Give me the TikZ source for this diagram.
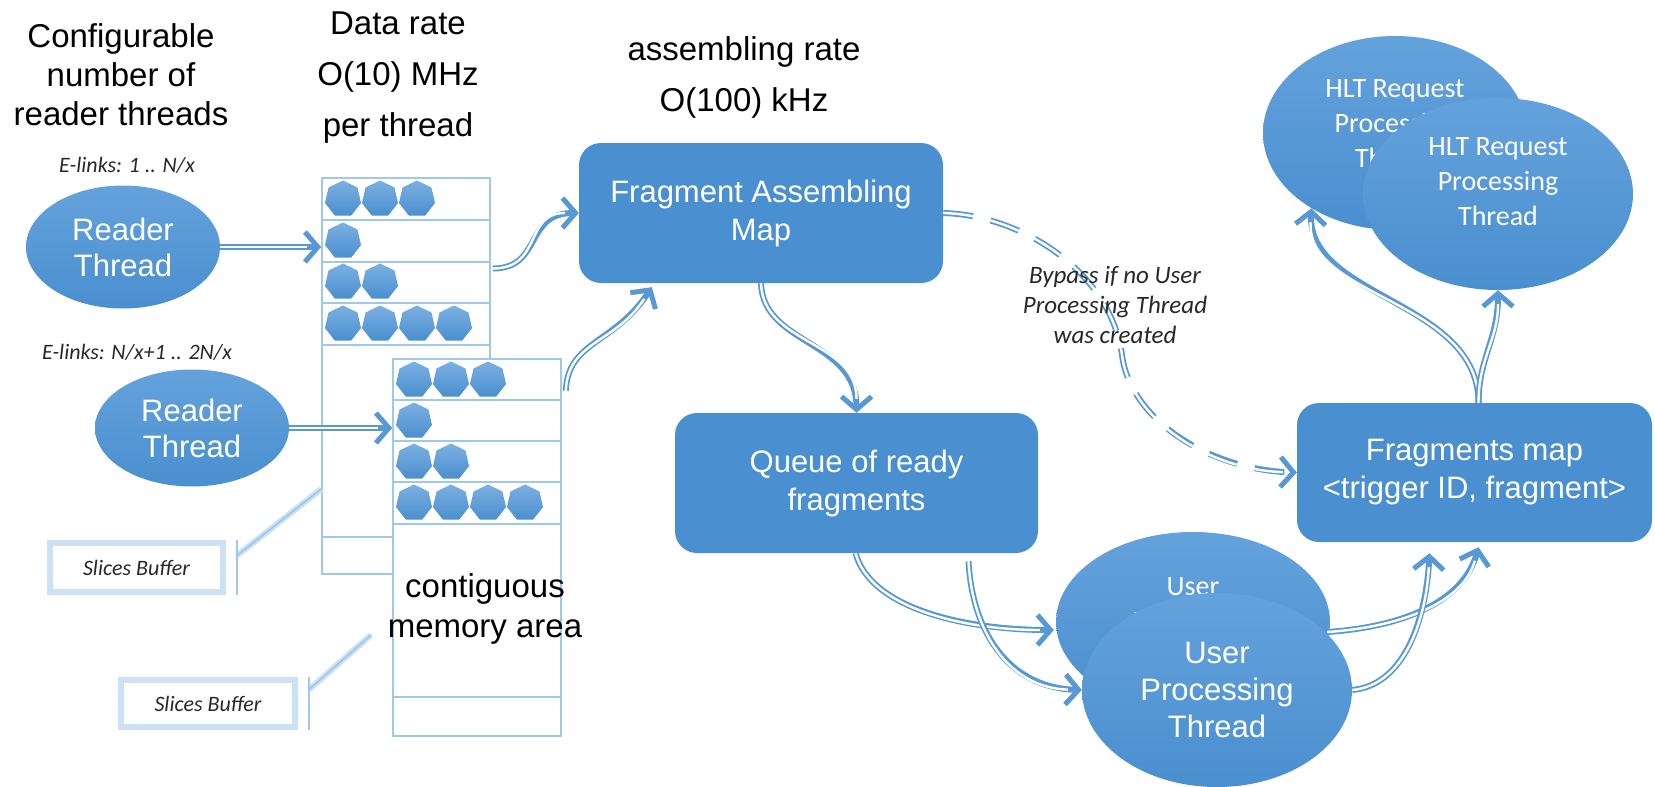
\documentclass[tikz,border=0pt]{standalone}
\usepackage{fontspec}
\setmainfont{Liberation Sans}
\newfontfamily\calfont{Carlito}
\usetikzlibrary{arrows.meta,shapes.geometric}
\definecolor{nodeblue}{RGB}{74,143,207}
\definecolor{lightnode}{RGB}{100,162,220}
\definecolor{conblue}{RGB}{88,152,213}
\definecolor{bufline}{RGB}{160,200,236}
\definecolor{glowc}{RGB}{205,225,245}
\definecolor{labgray}{RGB}{40,40,40}
\newcommand\conpath[2][]{\draw[cbody,#1] #2; \draw[ccore,#1] #2;}
\begin{document}
\begin{tikzpicture}[x=1pt,y=-1pt,
  every node/.style={inner sep=0pt},
  hdr/.style={align=center, text=black},
  lab/.style={align=center, font=\calfont\itshape\fontsize{22}{26}\selectfont, text=labgray},
  ell/.style={ellipse, top color=lightnode, bottom color=nodeblue, text=white, align=center},
  box/.style={rectangle, rounded corners=22pt, fill=nodeblue, text=white, align=center, font=\fontsize{31}{38}\selectfont},
  bufrow/.style={rectangle, draw=bufline, line width=1.6pt, fill=white, minimum width=168pt},
  hept/.style={regular polygon, regular polygon sides=7, minimum size=37pt, top color=lightnode!85!white, bottom color=nodeblue},
  cbody/.style={draw=conblue, line width=6pt, -{Straight Barb[length=13pt,width=30pt,line width=5pt 0]}},
  ccore/.style={draw=white, line width=2.4pt, shorten >=14pt},
  dashes/.style={dash pattern=on 30pt off 18pt},
  slicebox/.style={rectangle, fill=white, draw=glowc, line width=6pt, font=\calfont\itshape\fontsize{22}{26}\selectfont, text=labgray},
  leader/.style={draw=bufline, line width=1.8pt, preaction={draw=glowc, line width=6pt}}
]
\useasboundingbox (0,0) rectangle (1655,787);
\fill[white] (0,0) rectangle (1655,787);

% headline texts
\node[hdr, font=\fontsize{33}{39}\selectfont] (cfg) at (121,75) {Configurable\\number of\\reader threads};
\node[hdr, font=\fontsize{33}{51}\selectfont] (drate) at (398,78) {Data rate\\O(10) MHz\\per thread};
\node[hdr, font=\fontsize{33}{51}\selectfont] (arate) at (744,77) {assembling rate\\O(100) kHz};

% buffer 1
\foreach \n/\y/\h in {1/199/42,2/241/42,3/282.5/41,4/324/42,5/441/192,6/555.5/37}
  \node[bufrow, minimum height=\h*1pt] (b1r\n) at (406,\y) {};
\foreach \x/\y [count=\i] in {343/199,380/199,417/199,343/241,343/282,380/282,343/324,380/324,417/324,454/324}
  \node[hept] (h1-\i) at (\x,\y) {};
% buffer 2
\foreach \n/\y/\h in {1/379.5/41,2/420.5/41,3/461.5/41,4/503/42,5/610.5/173,6/716.5/39}
  \node[bufrow, minimum height=\h*1pt] (b2r\n) at (477,\y) {};
\foreach \x/\y [count=\i] in {414/380,451/380,488/380,414/421,414/462,451/462,414/503,451/503,488/503,525/503}
  \node[hept] (h2-\i) at (\x,\y) {};

% slices buffer callouts
\node[slicebox, minimum width=173pt, minimum height=49pt] (sb1) at (136.5,567.5) {Slices Buffer};
\draw[leader] ([shift={(11,-12)}]sb1.east) -- ([shift={(0,48)}]b1r5.west);
\draw[draw=bufline, line width=1.8pt] ([shift={(11,0)}]sb1.north east) -- ([shift={(11,0)}]sb1.south east);
\node[slicebox, minimum width=174pt, minimum height=47pt] (sb2) at (208,703.5) {Slices Buffer};
\coordinate (sb2end) at (371,635);
\draw[leader] ([shift={(11,-14)}]sb2.east) -- (sb2end);
\draw[draw=bufline, line width=1.8pt] ([shift={(11,0)}]sb2.north east) -- ([shift={(11,0)}]sb2.south east);

\node[hdr, font=\fontsize{33}{40}\selectfont] (cont) at (485,609) {contiguous\\memory area};

% reader threads
\node[lab] (el1) at (127,165) {E-links: 1 .. N/x};
\node[lab] (el2) at (137,352) {E-links: N/x+1 .. 2N/x};
\node[ell, minimum width=194pt, minimum height=123pt, font=\fontsize{31}{36}\selectfont] (r1) at (123,247) {Reader\\Thread};
\node[ell, minimum width=194pt, minimum height=117pt, font=\fontsize{31}{36}\selectfont] (r2) at (192,428) {Reader\\Thread};

% boxes
\node[box, minimum width=364pt, minimum height=140pt] (fam) at (761,213) {Fragment Assembling\\Map};
\node[box, minimum width=363pt, minimum height=140pt] (queue) at (856.5,483) {Queue of ready\\fragments};
\node[box, minimum width=355pt, minimum height=139pt] (fm) at (1474.5,472.5) {Fragments map\\<trigger ID, fragment>};

% HLT ellipses
\node[ell, minimum width=264pt, minimum height=194pt, font=\calfont\fontsize{28}{35}\selectfont, text depth=18pt] (hb) at (1395,133) {HLT Request\\Processing\\Thread};
\node[ell, minimum width=270pt, minimum height=192pt, font=\calfont\fontsize{28}{35}\selectfont, text depth=24pt] (hf) at (1498,194) {HLT Request\\Processing\\Thread};

% User processing ellipses
\node[ell, minimum width=274pt, minimum height=180pt, font=\calfont\fontsize{28}{35}\selectfont] (ub) at (1193,622) {User\\Processing\\Thread};
\node[ell, minimum width=270pt, minimum height=194pt, font=\fontsize{31}{37}\selectfont] (uf) at (1217,690) {User\\Processing\\Thread};

% connectors
\conpath{(r1.east) -- (r1.east -| b1r2.west)}
\conpath{(r2.east) -- (r2.east -| b2r2.west)}
\conpath{([shift={(2,-14)}]b1r3.east) .. controls +(50,0) and +(-55,0) .. (fam.west)}
\conpath{([shift={(4,-10)}]b2r1.south east) .. controls +(2,-50) and +(-37,57) .. ([shift={(73,4)}]fam.south west)}
\conpath{(fam.south) .. controls +(2,62) and +(0,-73) .. (queue.north)}
\coordinate (bm) at (1122,355);
\conpath[dashes]{(fam.east) .. controls (1020,215) and (1110,270) .. (bm) .. controls (1130,420) and (1210,470) .. (fm.west)}
\conpath{([xshift=-1pt]queue.south) .. controls +(15,55) and +(-90,0) .. ([shift={(-2,8)}]ub.west)}
\conpath{([shift={(112,8)}]queue.south) .. controls +(4,75) and +(-70,-2) .. (uf.west)}
\conpath{([shift={(-3,10)}]ub.east) .. controls +(75,-5) and +(-15,55) .. ([shift={(4,5)}]fm.south)}
\conpath{(uf.east) .. controls +(55,-5) and +(-3,60) .. ([shift={(-45,11)}]fm.south)}
\conpath{([xshift=4pt]fm.north) .. controls +(0,-103) and +(-5,90) .. (hb.-138)}
\conpath{([xshift=4pt]fm.north) .. controls +(0,-45) and +(0,50) .. (hf.south)}

\node[lab, font=\calfont\itshape\fontsize{25}{30}\selectfont] (byp) at (1115,305) {Bypass if no User\\Processing Thread\\was created};
\end{tikzpicture}
\end{document}
